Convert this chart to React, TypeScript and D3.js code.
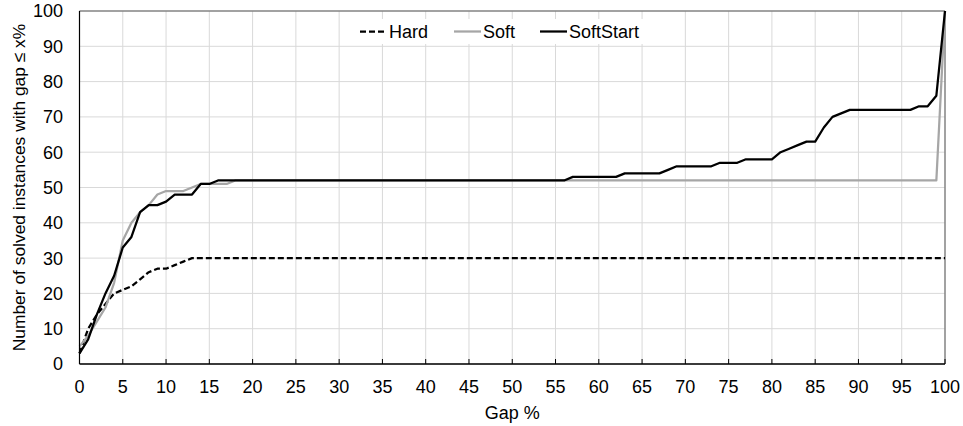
import React from "react";
import * as d3 from "d3";

const gaps: number[] = d3.range(0, 101);

const hard: number[] = [
  3, 10, 14, 17, 20, 21, 22, 24, 26, 27, 27, 28, 29, 30,
  ...Array(87).fill(30),
];

const soft: number[] = [
  5, 8, 12, 16, 23, 35, 40, 43, 45, 48, 49, 49, 49, 50, 51, 51, 51, 51,
  ...Array(82).fill(52),
  100,
];

const softStart: number[] = [
  3, 7, 14, 20, 25, 33, 36, 43, 45, 45, 46, 48, 48, 48, 51, 51,
  ...Array(41).fill(52), // 16..56
  ...Array(6).fill(53), // 57..62
  ...Array(5).fill(54), // 63..67
  55, // 68
  ...Array(5).fill(56), // 69..73
  ...Array(3).fill(57), // 74..76
  ...Array(4).fill(58), // 77..80
  60, 61, 62, 63, 63, 67, 70, 71, // 81..88
  ...Array(8).fill(72), // 89..96
  73, 73, 76, 100, // 97..100
];

const xTicks: number[] = d3.range(0, 101, 5);
const yTicks: number[] = d3.range(0, 101, 10);

const seriesNames = ["Hard", "Soft", "SoftStart"];

export default function App() {
  const W = 963, H = 426;
  const x = d3.scaleLinear().domain([0, 100]).range([79.5, 945]);
  const y = d3.scaleLinear().domain([0, 100]).range([364, 11]);
  const line = (vals: number[]) =>
    d3.line<number>().x((_, i) => x(gaps[i])).y((v) => y(v))(vals) || "";
  const font = "'Liberation Sans', Arial, sans-serif";
  const fs = 18;
  const series = [
    { name: seriesNames[0], vals: hard, color: "#000", dash: "6,3" },
    { name: seriesNames[1], vals: soft, color: "#a6a6a6", dash: undefined },
    { name: seriesNames[2], vals: softStart, color: "#000", dash: undefined },
  ];
  const legendX = [360, 454, 540];
  return (
    <svg width={W} height={H} style={{ position: "absolute", left: 0, top: 0, background: "#fff" }} fontFamily={font}>
      <rect width={W} height={H} fill="#fff" />
      {xTicks.map((t) => (
        <line key={"gx" + t} x1={x(t)} x2={x(t)} y1={y(100)} y2={y(0)} stroke="#d9d9d9" strokeWidth={1} />
      ))}
      {yTicks.map((t) => (
        <line key={"gy" + t} x1={x(0)} x2={x(100)} y1={y(t)} y2={y(t)} stroke="#d9d9d9" strokeWidth={1} />
      ))}
      <line x1={x(0)} x2={x(100)} y1={y(100)} y2={y(100)} stroke="#595959" strokeWidth={1} />
      <line x1={x(100)} x2={x(100)} y1={y(100)} y2={y(0)} stroke="#595959" strokeWidth={1} />
      <rect x={345} y={19} width={320} height={25} fill="#fff" />
      {series.map((s) => (
        <path key={s.name} d={line(s.vals)} fill="none" stroke={s.color} strokeWidth={2.25} strokeDasharray={s.dash} strokeLinejoin="round" />
      ))}
      <line x1={x(0)} x2={x(0)} y1={y(100)} y2={y(0)} stroke="#000" strokeWidth={1.2} />
      <line x1={x(0)} x2={x(100)} y1={y(0)} y2={y(0)} stroke="#000" strokeWidth={1.5} />
      {xTicks.map((t) => (
        <g key={"tx" + t}>
          <line x1={x(t)} x2={x(t)} y1={y(0)} y2={y(0) - 5} stroke="#000" strokeWidth={1} />
          <text x={x(t)} y={393} textAnchor="middle" fontSize={fs} fill="#000">{t}</text>
        </g>
      ))}
      {yTicks.map((t) => (
        <text key={"ty" + t} x={63} y={y(t) + 6.4} textAnchor="end" fontSize={fs} fill="#000">{t}</text>
      ))}
      <text x={x(50)} y={419} textAnchor="middle" fontSize={fs} fill="#000">Gap %</text>
      <text transform={`translate(25,${(y(0) + y(100)) / 2}) rotate(-90)`} textAnchor="middle" fontSize={17.4} fill="#000">
        Number of solved instances with gap ≤ x%
      </text>
      {series.map((s, i) => (
        <g key={"lg" + s.name}>
          <line x1={legendX[i]} x2={legendX[i] + 27} y1={31.5} y2={31.5} stroke={s.color} strokeWidth={2.25} strokeDasharray={s.dash} />
          <text x={legendX[i] + 29} y={38} fontSize={fs} fill="#000">{s.name}</text>
        </g>
      ))}
    </svg>
  );
}
